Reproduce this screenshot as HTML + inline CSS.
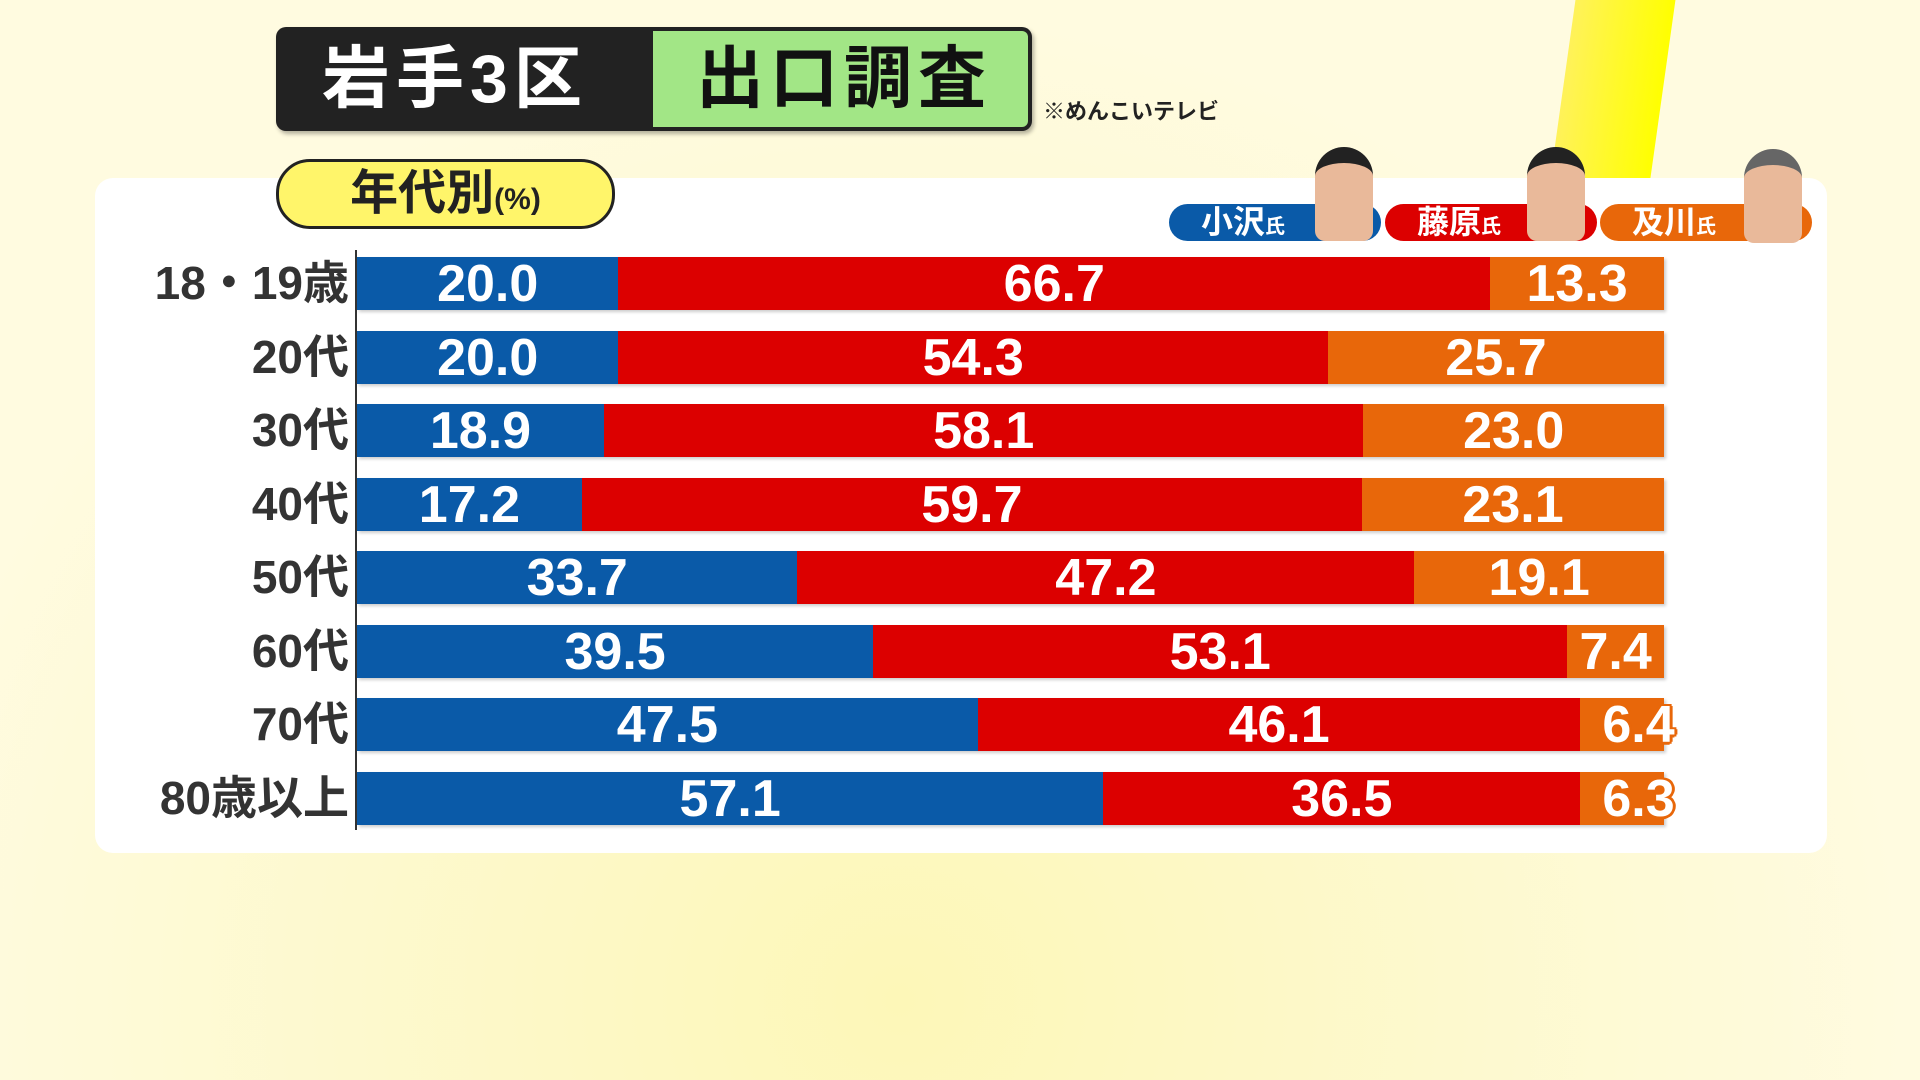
<!DOCTYPE html>
<html><head><meta charset="utf-8"><style>
body{margin:0;width:1920px;height:1080px;overflow:hidden;font-family:"Liberation Sans","Noto Sans CJK JP",sans-serif;position:relative;
background:radial-gradient(ellipse at 900px 1000px,#fdf7b8 0,#fdf9cf 40%,#fffbe0 70%);}
.abs{position:absolute}
.streak{left:1560px;top:-20px;width:100px;height:260px;background:linear-gradient(90deg,#fff25a,#ffff00);transform:skewX(-8deg);}
.title{left:276px;top:27px;width:756px;height:104px;border-radius:10px;background:#222;box-shadow:2px 3px 4px rgba(0,0,0,.3);overflow:hidden}
.title .g{position:absolute;left:377px;top:4px;right:4px;bottom:4px;background:#a2e686;border-radius:0 6px 6px 0}
.title span{position:absolute;top:12px;font-size:68px;font-weight:bold;line-height:80px;letter-spacing:6px}
.note{left:1043px;top:94px;font-size:22px;font-weight:bold;color:#222}
.panel{left:95px;top:178px;width:1732px;height:675px;background:#fff;border-radius:18px}
.pill{left:276px;top:159px;width:333px;height:64px;border:3px solid #222;border-radius:34px;background:#fff56a;font-size:48px;font-weight:bold;text-align:center;line-height:64px;color:#222}
.lab{left:0;width:349px;text-align:right;font-size:46px;font-weight:bold;color:#333;height:53px;line-height:53px}
.row{left:357px;width:1307px;height:53px;display:flex;box-shadow:2px 2px 3px rgba(0,0,0,.2)}
.row div{height:53px;line-height:55px;text-align:center;color:#fff;font-size:52px;font-weight:bold;white-space:nowrap}
.b{background:#0a5aa8}.r{background:#dc0000}.o{background:#e8670a;position:relative}
.lg{height:37px;border-radius:19px;color:#fff;font-size:32px;font-weight:bold;line-height:37px;padding-left:32px;box-sizing:border-box}
.lg small{font-size:20px}
.face{width:58px;height:94px;border-radius:29px 29px 10px 10px;background:#e9b99a;border-top:16px solid #222;box-sizing:border-box}
.ov{text-shadow:-2px -2px 0 #e8670a,2px -2px 0 #e8670a,-2px 2px 0 #e8670a,2px 2px 0 #e8670a,0 3px 0 #e8670a,3px 0 0 #e8670a}
</style></head><body>
<div class="abs streak"></div>
<div class="abs title"><div class="g"></div>
<span style="left:46px;color:#fff">岩手3区</span>
<span style="left:420px;color:#111">出口調査</span></div>
<div class="abs note">※めんこいテレビ</div>
<div class="abs panel"></div>
<div class="abs pill">年代別<span style="font-size:30px">(%)</span></div>

<div class="abs lg" style="left:1169px;top:204px;width:212px;background:#0a5aa8">小沢<small>氏</small></div>
<div class="abs lg" style="left:1385px;top:204px;width:212px;background:#dc0000">藤原<small>氏</small></div>
<div class="abs lg" style="left:1600px;top:204px;width:212px;background:#e8670a">及川<small>氏</small></div>
<div class="abs face" style="left:1315px;top:147px"></div>
<div class="abs face" style="left:1527px;top:147px"></div>
<div class="abs face" style="left:1744px;top:149px;border-top-color:#666"></div>

<div class="abs" style="left:355px;top:250px;width:2px;height:580px;background:#333"></div>

<div class="abs lab" style="top:257px">18・19歳</div>
<div class="abs row" style="top:257px"><div class="b" style="width:20%">20.0</div><div class="r" style="width:66.7%">66.7</div><div class="o" style="width:13.3%">13.3</div></div>
<div class="abs lab" style="top:331px">20代</div>
<div class="abs row" style="top:331px"><div class="b" style="width:20%">20.0</div><div class="r" style="width:54.3%">54.3</div><div class="o" style="width:25.7%">25.7</div></div>
<div class="abs lab" style="top:404px">30代</div>
<div class="abs row" style="top:404px"><div class="b" style="width:18.9%">18.9</div><div class="r" style="width:58.1%">58.1</div><div class="o" style="width:23%">23.0</div></div>
<div class="abs lab" style="top:478px">40代</div>
<div class="abs row" style="top:478px"><div class="b" style="width:17.2%">17.2</div><div class="r" style="width:59.7%">59.7</div><div class="o" style="width:23.1%">23.1</div></div>
<div class="abs lab" style="top:551px">50代</div>
<div class="abs row" style="top:551px"><div class="b" style="width:33.7%">33.7</div><div class="r" style="width:47.2%">47.2</div><div class="o" style="width:19.1%">19.1</div></div>
<div class="abs lab" style="top:625px">60代</div>
<div class="abs row" style="top:625px"><div class="b" style="width:39.5%">39.5</div><div class="r" style="width:53.1%">53.1</div><div class="o" style="width:7.4%">7.4</div></div>
<div class="abs lab" style="top:698px">70代</div>
<div class="abs row" style="top:698px"><div class="b" style="width:47.5%">47.5</div><div class="r" style="width:46.1%">46.1</div><div class="o ov" style="width:6.4%;text-align:left;padding-left:22px;box-sizing:border-box">6.4</div></div>
<div class="abs lab" style="top:772px">80歳以上</div>
<div class="abs row" style="top:772px"><div class="b" style="width:57.1%">57.1</div><div class="r" style="width:36.5%">36.5</div><div class="o ov" style="width:6.4%;text-align:left;padding-left:22px;box-sizing:border-box">6.3</div></div>
</body></html>
